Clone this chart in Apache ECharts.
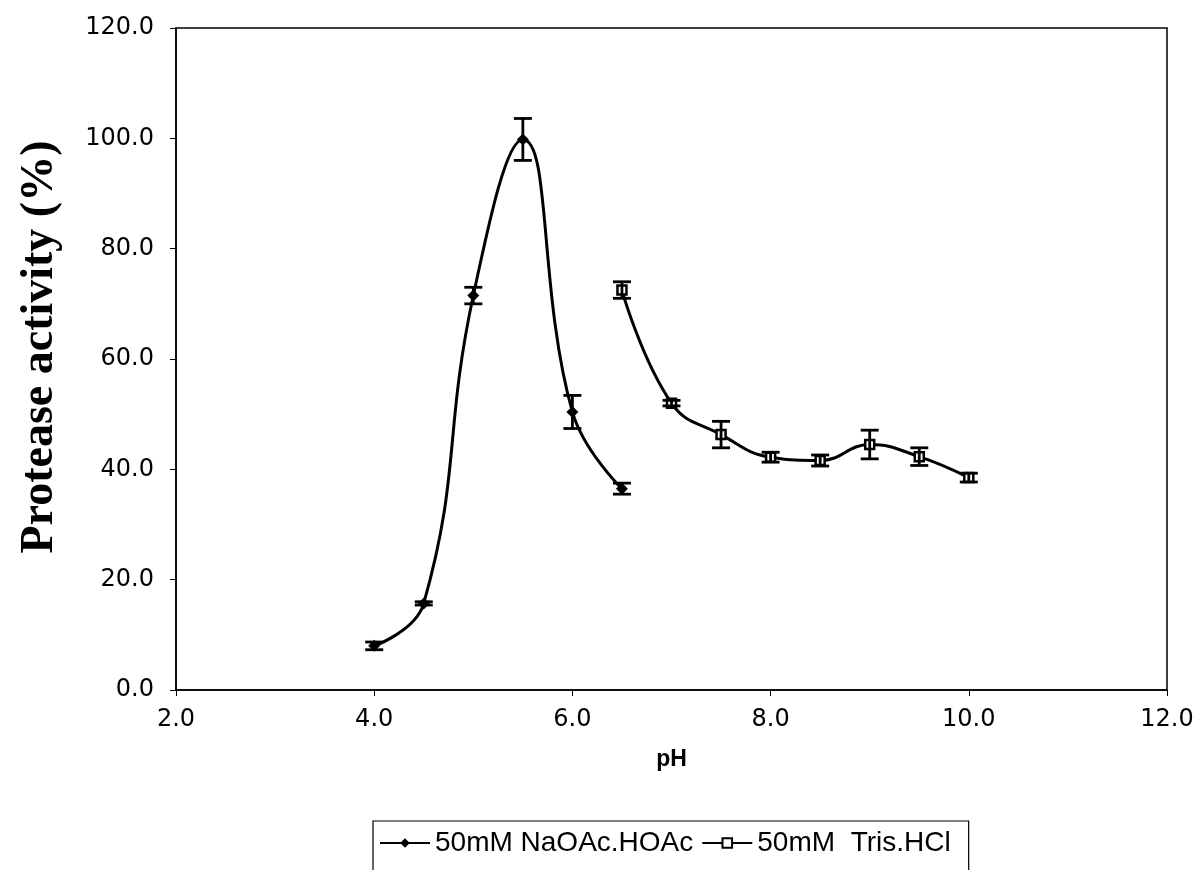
<!DOCTYPE html>
<html>
<head>
<meta charset="utf-8">
<script src="https://cdn.jsdelivr.net/npm/echarts@6/dist/echarts.min.js"></script>
<style>html,body{margin:0;padding:0;background:#fff;}#c{width:1203px;height:870px;}</style>
</head>
<body>
<div id="c"></div>
<script>
// Data
const phNaOAc = [4.0, 4.5, 5.0, 5.5, 6.0, 6.5];
const actNaOAc = [8.0, 15.7, 71.5, 99.8, 50.4, 36.5];
const errNaOAc = [0.7, 0.3, 1.5, 3.8, 3.0, 1.0];

const phTris = [6.5, 7.0, 7.5, 8.0, 8.5, 9.0, 9.5, 10.0];
const actTris = [72.5, 52.0, 46.3, 42.2, 41.6, 44.5, 42.3, 38.5];
const errTris = [1.5, 0.5, 2.4, 0.9, 1.0, 2.6, 1.6, 0.8];

const xTicks = [2, 4, 6, 8, 10, 12];
const yTicks = [0, 20, 40, 60, 80, 100, 120];

const seriesNames = ['50mM NaOAc.HOAc', '50mM  Tris.HCl'];

function pairs(xs, ys) { return xs.map((x, i) => [x, ys[i]]); }
function errData(xs, ys, es) { return xs.map((x, i) => [x, ys[i] - es[i], ys[i] + es[i]]); }

function errRender(params, api) {
  const x = api.value(0);
  const lo = api.coord([x, api.value(1)]);
  const hi = api.coord([x, api.value(2)]);
  const w = 9;
  const st = { stroke: '#000', lineWidth: 2.8 };
  return {
    type: 'group',
    children: [
      { type: 'line', shape: { x1: hi[0], y1: hi[1], x2: lo[0], y2: lo[1] }, style: st },
      { type: 'line', shape: { x1: hi[0] - w, y1: hi[1], x2: hi[0] + w, y2: hi[1] }, style: st },
      { type: 'line', shape: { x1: lo[0] - w, y1: lo[1], x2: lo[0] + w, y2: lo[1] }, style: st }
    ]
  };
}

const chart = echarts.init(document.getElementById('c'), null, { renderer: 'canvas' });
const font = 'Liberation Sans, Arial, sans-serif';
const tickFont = 'DejaVu Sans, sans-serif';
chart.setOption({
  animation: false,
  backgroundColor: '#fff',
  grid: { left: 176, right: 36, top: 28, bottom: 180, show: true, borderColor: '#000', borderWidth: 1.5, containLabel: false },
  xAxis: {
    type: 'value', min: xTicks[0], max: xTicks[xTicks.length - 1], interval: 2,
    axisLine: { show: true, lineStyle: { color: '#000', width: 1.5 } },
    axisTick: { show: true, inside: false, length: 6, lineStyle: { color: '#000' } },
    splitLine: { show: false },
    axisLabel: { color: '#000', fontFamily: tickFont, fontSize: 24, margin: 18, formatter: v => v.toFixed(1) },
    name: 'pH', nameLocation: 'middle', nameGap: 58,
    nameTextStyle: { color: '#000', fontFamily: font, fontSize: 23, fontWeight: 'bold' }
  },
  yAxis: {
    type: 'value', min: yTicks[0], max: yTicks[yTicks.length - 1], interval: 20,
    axisLine: { show: true, lineStyle: { color: '#000', width: 1.5 } },
    axisTick: { show: true, inside: false, length: 6, lineStyle: { color: '#000' } },
    splitLine: { show: false },
    axisLabel: { color: '#000', fontFamily: tickFont, fontSize: 24, margin: 22, formatter: v => v.toFixed(1) },
    name: 'Protease activity (%)', nameLocation: 'middle', nameGap: 113, nameRotate: 90,
    nameTextStyle: { color: '#000', fontFamily: 'Liberation Serif, Times New Roman, serif', fontSize: 46, fontWeight: 'bold', padding: [0, 0, 0, 24] }
  },
  legend: {
    left: 373, top: 821,
    data: seriesNames,
    orient: 'horizontal',
    borderColor: '#000', borderWidth: 1.2,
    padding: [8, 18, 30, 6],
    itemWidth: 50, itemHeight: 12, itemGap: 8,
    textStyle: { color: '#000', fontFamily: font, fontSize: 28 }
  },
  series: [
    {
      name: seriesNames[0], type: 'line', data: pairs(phNaOAc, actNaOAc), smooth: 0.45,
      symbol: 'diamond', symbolSize: 12,
      lineStyle: { color: '#000', width: 3 }, itemStyle: { color: '#000' }, z: 2
    },
    {
      name: seriesNames[1], type: 'line', data: pairs(phTris, actTris), smooth: 0.45,
      symbol: 'rect', symbolSize: 9,
      lineStyle: { color: '#000', width: 3 }, itemStyle: { color: '#fff', borderColor: '#000', borderWidth: 2.5 }, z: 2
    },
    { type: 'custom', renderItem: errRender, data: errData(phNaOAc, actNaOAc, errNaOAc), encode: { x: 0, y: [1, 2] }, z: 3, silent: true },
    { type: 'custom', renderItem: errRender, data: errData(phTris, actTris, errTris), encode: { x: 0, y: [1, 2] }, z: 3, silent: true }
  ]
});
</script>
</body>
</html>
